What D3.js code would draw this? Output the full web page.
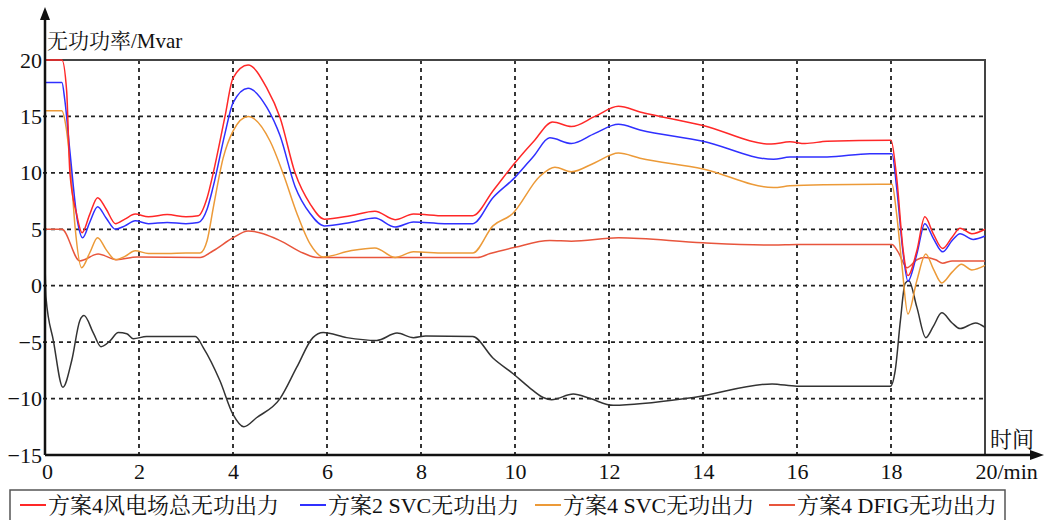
<!DOCTYPE html>
<html>
<head>
<meta charset="utf-8">
<script src="https://cdn.jsdelivr.net/npm/d3@7"></script>
<style>
  body { margin: 0; background: #fff; }
  svg text { font-family: "Liberation Serif", "Noto Serif CJK SC", "Noto Sans CJK SC", serif; fill: #111; }
</style>
</head>
<body>
<div id="chart"></div>
<script>

// tick values
var xTicks = [0, 2, 4, 6, 8, 10, 12, 14, 16, 18, 20];
var yTicks = [-15, -10, -5, 0, 5, 10, 15, 20];

// legend names (black line has no legend entry)
var seriesNames = ["方案4风电场总无功出力", "方案2 SVC无功出力", "方案4 SVC无功出力", "方案4 DFIG无功出力"];

// 方案4风电场总无功出力 (red)
var totalT = [0, 0.005, 0.36, 0.46, 0.53, 0.67, 0.79, 0.95, 1.12, 1.3, 1.5, 1.7, 1.92, 2.2, 2.6, 3.0, 3.26, 3.45, 3.58, 3.83, 4.0, 4.32, 4.72, 5.0, 5.32, 5.64, 5.94, 6.5, 7.02, 7.45, 7.84, 8.5, 9.1, 9.53, 10.0, 10.4, 10.8, 11.2, 11.7, 12.2, 12.66, 14.0, 15.45, 15.85, 16.17, 16.64, 18.0, 18.12, 18.26, 18.36, 18.55, 18.72, 18.9, 19.1, 19.3, 19.47, 19.72, 20];
var totalQ = [5, 20, 20, 17.3, 10, 6.4, 4.7, 6.3, 7.8, 6.8, 5.5, 5.9, 6.35, 6.1, 6.3, 6.1, 6.2, 7.8, 10, 15, 18.4, 19.55, 17.5, 14.9, 10, 7.25, 5.9, 6.2, 6.6, 5.85, 6.35, 6.2, 6.2, 8.4, 10.9, 12.8, 14.5, 14.1, 15.0, 15.9, 15.4, 14.2, 12.55, 12.75, 12.6, 12.8, 12.9, 9.6, 3.1, 0.9, 3.1, 6.1, 4.6, 3.3, 4.3, 5.1, 4.6, 5.0];

// 方案2 SVC无功出力 (blue)
var svc2T = [0, 0.005, 0.36, 0.42, 0.53, 0.69, 0.8, 0.95, 1.12, 1.3, 1.5, 1.7, 1.92, 2.2, 2.6, 3.0, 3.26, 3.45, 3.58, 3.83, 4.0, 4.32, 4.72, 5.0, 5.32, 5.64, 5.94, 6.5, 7.02, 7.45, 7.84, 8.5, 9.1, 9.53, 10.0, 10.4, 10.74, 11.2, 11.7, 12.2, 12.66, 14.0, 15.5, 15.85, 16.64, 17.55, 18.02, 18.12, 18.26, 18.36, 18.55, 18.72, 18.9, 19.1, 19.3, 19.47, 19.75, 20];
var svc2Q = [15, 18, 18, 16.5, 11.9, 5.75, 4.25, 5.6, 7.0, 6.0, 5.0, 5.3, 5.75, 5.5, 5.6, 5.5, 5.6, 6.8, 8.8, 13.5, 16.2, 17.5, 15.8, 13.3, 8.8, 6.4, 5.3, 5.6, 6.0, 5.2, 5.65, 5.5, 5.5, 7.8, 9.6, 11.5, 13.1, 12.6, 13.5, 14.3, 13.8, 12.8, 11.2, 11.4, 11.4, 11.7, 11.7, 8.7, 2.8, 0.4, 2.8, 5.5, 4.2, 3.0, 4.0, 4.6, 4.1, 4.4];

// 方案4 SVC无功出力 (orange)
var svc4T = [0, 0.005, 0.355, 0.45, 0.553, 0.64, 0.78, 0.95, 1.12, 1.3, 1.5, 1.7, 1.92, 2.2, 2.6, 3.0, 3.3, 3.45, 3.58, 3.79, 4.0, 4.32, 4.79, 5.07, 5.36, 5.64, 5.92, 6.5, 7.02, 7.45, 7.84, 8.5, 9.1, 9.53, 9.94, 10.53, 10.85, 11.2, 11.7, 12.2, 12.66, 14.0, 15.5, 15.85, 16.6, 18.02, 18.12, 18.23, 18.36, 18.55, 18.74, 18.9, 19.08, 19.3, 19.5, 19.72, 20];
var svc4Q = [-2.5, 15.5, 15.5, 14, 10, 5.2, 1.6, 2.9, 4.25, 3.2, 2.3, 2.6, 3.1, 2.85, 2.85, 2.9, 2.9, 4.0, 6.9, 11.3, 13.7, 15.0, 12.8, 9.9, 6.4, 3.7, 2.55, 3.1, 3.35, 2.5, 3.0, 2.9, 2.9, 5.3, 6.35, 9.7, 10.5, 10.1, 10.9, 11.75, 11.3, 10.35, 8.7, 8.85, 8.95, 9.0, 6.35, 1.9, -2.5, 0.45, 2.8, 1.5, 0.25, 1.2, 1.9, 1.4, 1.8];

// 方案4 DFIG无功出力 (orange-red)
var dfigT = [0, 0.005, 0.36, 0.74, 1.13, 1.53, 1.96, 3.3, 3.58, 4.0, 4.32, 5.0, 5.49, 5.79, 9.2, 9.47, 10.0, 10.74, 11.2, 12.2, 14.0, 15.5, 16.0, 18.02, 18.15, 18.34, 18.55, 18.72, 18.95, 19.1, 19.3, 20];
var dfigQ = [3, 5, 5, 2.2, 2.8, 2.3, 2.55, 2.5, 3.1, 4.25, 4.85, 4.0, 2.9, 2.5, 2.5, 2.85, 3.4, 4.0, 3.95, 4.25, 3.8, 3.6, 3.65, 3.65, 3.0, 1.6, 2.3, 2.5, 2.3, 2.0, 2.2, 2.2];

// black line (not in legend)
var blackT = [0, 0.02, 0.18, 0.38, 0.57, 0.74, 0.83, 1.03, 1.19, 1.38, 1.56, 1.74, 1.88, 2.16, 3.2, 3.37, 3.72, 4.0, 4.23, 4.5, 5.0, 5.36, 5.7, 5.92, 6.42, 7.06, 7.49, 7.84, 8.1, 9.1, 9.53, 9.96, 10.3, 10.6, 10.78, 11.24, 11.6, 12.09, 13.8, 15.47, 16.0, 17.99, 18.09, 18.2, 18.3, 18.38, 18.55, 18.74, 18.9, 19.08, 19.3, 19.47, 19.8, 20];
var blackQ = [2.2, -1, -4.9, -9.0, -6.6, -3.1, -2.65, -4.2, -5.4, -4.9, -4.15, -4.25, -4.7, -4.5, -4.5, -5.5, -8.4, -11.4, -12.5, -11.7, -10, -7.2, -4.6, -4.15, -4.6, -4.85, -4.2, -4.6, -4.45, -4.5, -6.4, -7.8, -9.0, -9.9, -10.1, -9.6, -10.0, -10.6, -9.9, -8.7, -8.9, -8.9, -7.5, -3.1, 0.2, 0.45, -1.9, -4.6, -3.6, -2.4, -3.3, -3.8, -3.3, -3.7];

var svgWidth = 1045;
var svgHeight = 520;

var margin = { top: 60, right: 60, bottom: 65, left: 45 };
var width = 985 - margin.left;
var height = 455 - margin.top;

var svg = d3.select("#chart")
  .append("svg")
  .attr("width", svgWidth)
  .attr("height", svgHeight);

var chartGroup = svg.append("g")
  .attr("transform", `translate(${margin.left}, ${margin.top})`);

var xScale = d3.scaleLinear().domain([0, 20]).range([0, width]);
var yScale = d3.scaleLinear().domain([-15, 20]).range([height, 0]);

// dashed grid
chartGroup.selectAll(".hgrid")
  .data(yTicks.filter(d => d > -15 && d < 20))
  .enter()
  .append("line")
  .attr("x1", -2)
  .attr("x2", width)
  .attr("y1", d => yScale(d))
  .attr("y2", d => yScale(d))
  .attr("stroke", "#222")
  .attr("stroke-width", 1.8)
  .attr("stroke-dasharray", "4,4");

chartGroup.selectAll(".vgrid")
  .data(xTicks.filter(d => d > 0 && d < 20))
  .enter()
  .append("line")
  .attr("x1", d => xScale(d))
  .attr("x2", d => xScale(d))
  .attr("y1", 0)
  .attr("y2", height)
  .attr("stroke", "#222")
  .attr("stroke-width", 1.8)
  .attr("stroke-dasharray", "4,4");

// frame: top and right
chartGroup.append("path")
  .attr("d", `M0,0H${width}V${height}`)
  .attr("fill", "none")
  .attr("stroke", "#444")
  .attr("stroke-width", 2);

// lines
var series = [
  { t: blackT, q: blackQ, color: "#333333" },
  { t: dfigT, q: dfigQ, color: "#e8553c" },
  { t: svc4T, q: svc4Q, color: "#ec9a38" },
  { t: svc2T, q: svc2Q, color: "#3030ff" },
  { t: totalT, q: totalQ, color: "#ff2828" }
];

var line = d3.line()
  .x(d => xScale(d[0]))
  .y(d => yScale(d[1]))
  .curve(d3.curveMonotoneX);

chartGroup.selectAll(".series")
  .data(series)
  .enter()
  .append("path")
  .attr("class", "series")
  .attr("fill", "none")
  .attr("stroke", d => d.color)
  .attr("stroke-width", 1.5)
  .attr("d", d => line(d.t.map((t, i) => [t, d.q[i]])));

// axes lines with arrows
chartGroup.append("line")
  .attr("x1", 0).attr("x2", 0)
  .attr("y1", height).attr("y2", -margin.top + 18)
  .attr("stroke", "#111").attr("stroke-width", 2.5);
chartGroup.append("path")
  .attr("d", `M-5,${-margin.top + 20}L0,${-margin.top + 7}L5,${-margin.top + 20}Z`)
  .attr("fill", "#111");

chartGroup.append("line")
  .attr("x1", 0).attr("x2", 1032 - margin.left)
  .attr("y1", height).attr("y2", height)
  .attr("stroke", "#111").attr("stroke-width", 2.5);
chartGroup.append("path")
  .attr("d", `M${1030 - margin.left},${height - 5}L${1044 - margin.left},${height}L${1030 - margin.left},${height + 5}Z`)
  .attr("fill", "#111");

// tick labels
var leftAxis = d3.axisLeft(yScale).tickValues(yTicks).tickSize(0).tickPadding(3);
var yAxis = chartGroup.append("g").call(leftAxis);
yAxis.select(".domain").remove();
yAxis.selectAll("text")
  .attr("font-size", "22px")
  .attr("font-family", "'Liberation Serif', serif")
  .attr("fill", "#111");

var bottomAxis = d3.axisBottom(xScale).tickValues(xTicks).tickSize(0).tickPadding(8)
  .tickFormat(d => d === 20 ? "20/min" : d);
var xAxis = chartGroup.append("g")
  .attr("transform", `translate(0, ${height})`)
  .call(bottomAxis);
xAxis.select(".domain").remove();
xAxis.selectAll("text")
  .attr("font-size", "22px")
  .attr("font-family", "'Liberation Serif', serif")
  .attr("fill", "#111");
xAxis.selectAll(".tick text")
  .filter(d => d === 20)
  .attr("text-anchor", "start")
  .attr("x", -10);
xAxis.selectAll(".tick text")
  .filter(d => d === 0)
  .attr("x", 2);

// axis titles
svg.append("text")
  .attr("x", 47)
  .attr("y", 48)
  .attr("font-size", "21px")
  .text("无功功率/Mvar");

svg.append("text")
  .attr("x", 990)
  .attr("y", 447)
  .attr("font-size", "22px")
  .text("时间");

// legend
var legendBox = svg.append("g");
legendBox.append("rect")
  .attr("x", 10)
  .attr("y", 490)
  .attr("width", 995)
  .attr("height", 40)
  .attr("fill", "none")
  .attr("stroke", "#555")
  .attr("stroke-width", 1.5);

var legendColors = ["#ff2828", "#3030ff", "#ec9a38", "#e8553c"];
var legendX = [20, 300, 535, 769];

var legendItems = legendBox.selectAll(".legend-item")
  .data(seriesNames)
  .enter()
  .append("g")
  .attr("transform", (d, i) => `translate(${legendX[i]}, 505)`);

legendItems.append("line")
  .attr("x1", 0)
  .attr("x2", 26)
  .attr("y1", 0)
  .attr("y2", 0)
  .attr("stroke", (d, i) => legendColors[i])
  .attr("stroke-width", 2);

legendItems.append("text")
  .attr("x", 28)
  .attr("y", 8)
  .attr("font-size", "22px")
  .text(d => d);

</script>
</body>
</html>
